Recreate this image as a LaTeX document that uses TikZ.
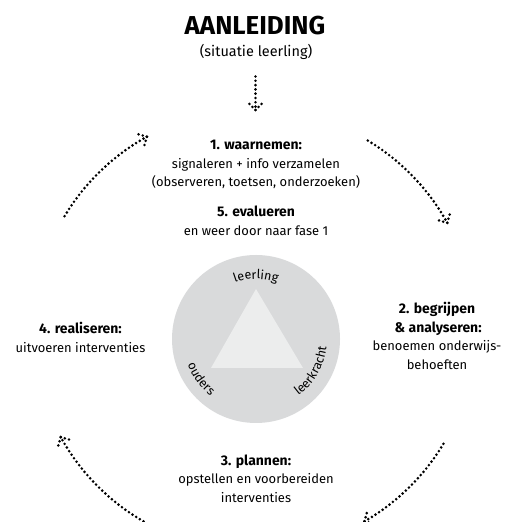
\documentclass[tikz,border=0pt]{standalone}
\usepackage{fontspec}
\setmainfont{Fira Sans}
\usetikzlibrary{decorations.text,decorations.markings}
\definecolor{discgrey}{HTML}{D9DADB}
\definecolor{trigrey}{HTML}{ECEDED}
\newcommand{\phhead}[1]{{\fontsize{14}{18.5}\selectfont\bfseries #1}}
\newcommand{\curvefont}{\fontsize{12.5}{14}\selectfont}
\begin{document}
\begin{tikzpicture}[x=1bp,y=1bp,
  dotline/.style={line width=2.9bp, line cap=round, dash pattern=on 0bp off 4.3bp},
  dotarrow/.style={dotline, postaction={decorate},
    decoration={markings, mark=at position 1 with {\draw[dotline] (0,0) -- (-8.4,8.4); \draw[dotline] (0,0) -- (-8.4,-8.4);}}},
  txt/.style={font=\fontsize{13}{18.5}\selectfont, align=center, inner sep=0pt},
  curved/.style={decorate, decoration={text along path, text align=center, text={|\curvefont|#1}}}
]
\clip (0,0) rectangle (507,522);
\coordinate (C) at (254,192);
\coordinate (D) at (256,183);

% centre disc and triangle
\node[circle, fill=discgrey, minimum size=168bp, inner sep=0pt] (disc) at (D) {};
\fill[trigrey] (256,233) -- (211,154) -- (303,154) -- cycle;

% curved labels
\path[curved=leerling] ([shift={(135:60)}]D) arc[start angle=135, end angle=45, radius=60];
\path[curved=leerkracht] ([shift={(-80:71)}]D) arc[start angle=-80, end angle=20, radius=71];
\path[curved=ouders] ([shift={(-194:73)}]D) arc[start angle=-194, end angle=-94, radius=73];

% texts
\node[txt, font=\fontsize{26}{30}\selectfont\bfseries] (title) at (255,496) {AANLEIDING};
\node[txt, font=\fontsize{14.5}{18}\selectfont] (sub) at (256,470) {(situatie leerling)};
\node[txt] (f1) at (256,357.5) {\phhead{1. waarnemen:}\\signaleren + info verzamelen\\(observeren, toetsen, onderzoeken)};
\node[txt] (f5) at (256,301) {\phhead{5. evalueren}\\en weer door naar fase 1};
\node[txt] (f2) at (437,186) {\phhead{2. begrijpen}\\\phhead{\,\& analyseren:}\\benoemen onderwijs-\\behoeften};
\node[txt] (f3) at (256,43.5) {\phhead{3. plannen:}\\opstellen en voorbereiden\\interventies};
\node[txt] (f4) at (80.5,184.5) {\phhead{4. realiseren:}\\uitvoeren interventies};

% down arrow
\coordinate (a0) at (255.5,445.5);
\coordinate (a1) at (255.5,412);
\draw[dotarrow] (a0) -- (a1);

% cycle arcs (clockwise)
\draw[dotarrow] ([shift={(59:221)}]C) arc[start angle=59, end angle=29, radius=221];
\draw[dotarrow] ([shift={(-31:221)}]C) arc[start angle=-31, end angle=-60, radius=221];
\draw[dotarrow] ([shift={(-120:221)}]C) arc[start angle=-120, end angle=-151, radius=221];
\draw[dotarrow] ([shift={(149:221)}]C) arc[start angle=149, end angle=119, radius=221];
\end{tikzpicture}
\end{document}
